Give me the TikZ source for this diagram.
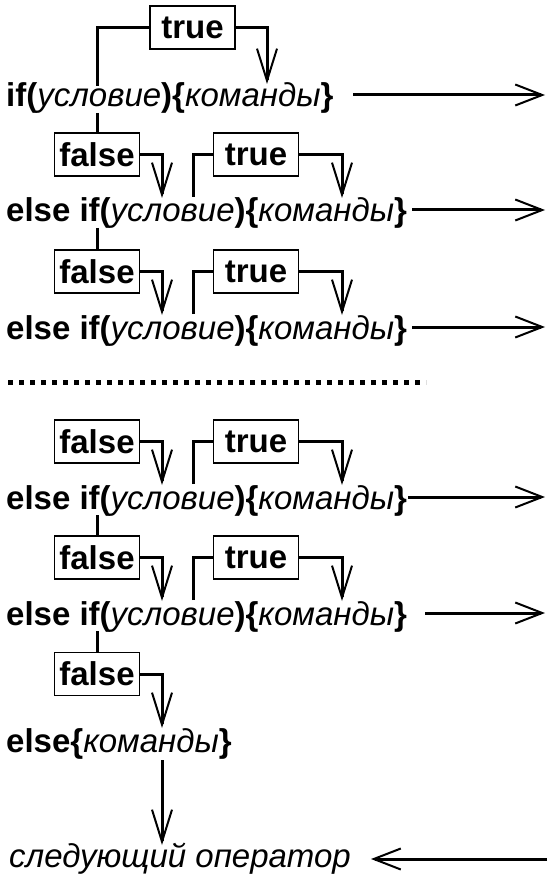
\documentclass[tikz,border=0pt]{standalone}
\usepackage{fontspec}
\setmainfont{Liberation Sans}
\usetikzlibrary{arrows.meta}
\tikzset{
  lbl/.style={draw, line width=1.6pt, font=\fontsize{33}{40}\selectfont\bfseries, minimum width=85pt, minimum height=43pt, inner sep=0pt},
  rowtxt/.style={anchor=base west, inner sep=0pt},
  conn/.style={line width=3pt},
  varr/.style={conn, -{Straight Barb[length=32pt,width=20pt,line width=2pt]}},
  harr/.style={conn, -{Straight Barb[length=27pt,width=21pt,line width=2pt]}},
  dotline/.style={line width=5pt, dash pattern=on 5pt off 6pt},
}
\newcommand\eif{{\bfseries else if(}\textit{условие}{\bfseries )\{}\textit{команды}{\bfseries \}}}
\begin{document}
\begin{tikzpicture}[x=1pt,y=-1pt,font=\fontsize{33}{40}\selectfont]
\useasboundingbox (0,0) rectangle (547,874);
% rows
\node[rowtxt] (r1) at (6,107) {{\bfseries if(}\textit{условие}{\bfseries )\{}\textit{команды}{\bfseries \}}};
\node[rowtxt] (r2) at (6,222) {\eif};
\node[rowtxt] (r3) at (6,339) {\eif};
\node[rowtxt] (r4) at (6,509) {\eif};
\node[rowtxt] (r5) at (6,625) {\eif};
\node[rowtxt] (r6) at (6,752) {{\bfseries else\{}\textit{команды}{\bfseries \}}};
\node[rowtxt] (r7) at (9,867) {\textit{следующий оператор}};
% dots
\coordinate (d1) at (8,382);
\coordinate (d2) at (426,382);
\draw[dotline] (d1) -- (d2);
% boxes
\node[lbl] (t1) at (192.5,27.5) {true};
\node[lbl] (t2) at (256,154.5) {true};
\node[lbl] (t3) at (256,271.5) {true};
\node[lbl] (t4) at (256,441.5) {true};
\node[lbl] (t5) at (256,557.5) {true};
\node[lbl] (f1) at (97,154.5) {false};
\node[lbl] (f2) at (97,271.5) {false};
\node[lbl] (f4) at (97,441.5) {false};
\node[lbl] (f5) at (97,557.5) {false};
\node[lbl] (f6) at (97,674) {false};
% row 1 true
\coordinate (a1) at (97,86);
\coordinate (b1) at (267,84);
\draw[conn] (a1) |- (t1.west);
\draw[varr] (t1.east) -| (b1);
% rows 2-5 true
\foreach \i/\B in {2/222,3/339,4/509,5/625}{
  \coordinate (a\i) at (193,\B-25);
  \coordinate (b\i) at (342,\B-24);
  \draw[conn] (a\i) |- (t\i.west);
  \draw[varr] (t\i.east) -| (b\i);
}
% false links down from rows
\foreach \r/\f/\B in {1/1/107,2/2/222,4/5/509,5/6/625}{
  \coordinate (s\r) at (97,\B+6);
  \draw[conn] (s\r) -- (f\f.north);
}
% false arrows
\coordinate (g1) at (162,198);
\coordinate (g2) at (162,315);
\coordinate (g4) at (162,485);
\coordinate (g5) at (162,601);
\coordinate (g6) at (162,728);
\foreach \f in {1,2,4,5,6}{
  \draw[varr] (f\f.east) -| (g\f);
}
% right arrows
\foreach \i/\B/\s in {1/107/353,2/222/412,3/339/412,4/509/408,5/625/425}{
  \coordinate (c\i) at (\s,\B-12);
  \coordinate (e\i) at (545,\B-12);
  \draw[harr] (c\i) -- (e\i);
}
% else to next
\coordinate (h1) at (162,760);
\coordinate (h2) at (162,845);
\draw[varr] (h1) -- (h2);
\coordinate (k1) at (547,859);
\draw[harr] (k1) -- ([xshift=20pt]r7.east |- k1);
\end{tikzpicture}
\end{document}
